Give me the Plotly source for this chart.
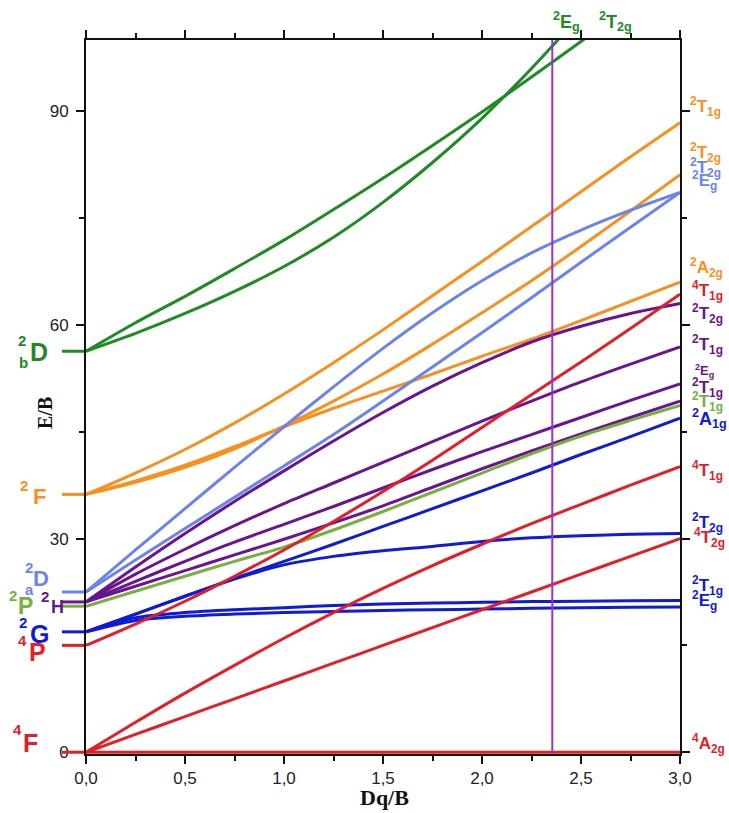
import plotly.graph_objects as go

# ---------------- data ----------------
X = [0, 0.25, 0.5, 0.75, 1.0, 1.25, 1.5, 1.75, 2.0, 2.25, 2.5, 2.75, 3.0]

red_4A2g = [0, 0, 0, 0, 0, 0, 0, 0, 0, 0, 0, 0, 0]
red_4T2g = [0, 2.5, 5.0, 7.5, 10.0, 12.5, 15.0, 17.5, 20.0, 22.5, 25.0, 27.5, 30.0]
red_4T1gF = [0, 4.2, 8.3, 12.2, 16.0, 19.6, 23.0, 26.2, 29.2, 32.1, 34.8, 37.5, 40.1]
red_4T1gP = [15.0, 18.0, 21.2, 24.7, 28.4, 32.4, 36.6, 41.0, 45.6, 50.2, 54.8, 59.5, 64.3]

blue_2Eg = [16.9, 18.5, 19.1, 19.4, 19.6, 19.75, 19.9, 20.0, 20.1, 20.2, 20.3, 20.35, 20.4]
blue_2T1g = [16.9, 18.9, 19.6, 20.0, 20.3, 20.6, 20.8, 20.95, 21.05, 21.15, 21.2, 21.25, 21.3]
blue_2T2g = [16.9, 19.4, 21.9, 24.3, 26.3, 27.5, 28.3, 28.9, 29.6, 30.1, 30.4, 30.6, 30.7]
blue_2A1g = [16.9, 19.4, 21.9, 24.4, 26.8, 29.2, 31.7, 34.2, 36.7, 39.2, 41.8, 44.3, 46.9]

lgreen_2T1g = [20.5, 22.6, 24.7, 26.8, 28.8, 31.2, 33.8, 36.5, 39.2, 41.9, 44.4, 46.6, 48.7]

purple_2T1g_a = [21.1, 23.3, 25.5, 27.7, 29.9, 32.2, 34.6, 37.2, 39.8, 42.3, 44.7, 47.0, 49.3]
purple_2Eg = [21.1, 24.0, 26.8, 29.5, 32.0, 34.5, 37.1, 39.7, 42.2, 44.6, 47.0, 49.4, 51.7]
purple_2T1g_b = [21.1, 25.0, 28.5, 31.8, 34.9, 37.8, 40.7, 43.6, 46.5, 49.3, 52.0, 54.5, 56.9]
purple_2T2g = [21.1, 26.0, 30.7, 35.2, 39.5, 43.7, 47.7, 51.4, 54.7, 57.6, 59.8, 61.6, 63.0]

lblue_2Eg = [22.5, 27.0, 31.4, 35.8, 40.2, 44.6, 49.3, 54.1, 58.9, 63.8, 68.8, 73.7, 78.6]
lblue_2T2g = [22.5, 28.4, 34.2, 40.0, 45.7, 51.3, 56.7, 61.7, 66.2, 70.1, 73.3, 76.1, 78.6]

orange_2T1g = [36.2, 39.2, 42.5, 46.2, 50.3, 54.7, 59.3, 64.1, 68.9, 73.8, 78.7, 83.6, 88.4]
orange_2T2g = [36.2, 37.9, 40.0, 42.6, 45.8, 49.3, 53.1, 57.3, 61.7, 66.2, 71.0, 76.0, 81.1]
orange_2A2g = [36.2, 38.1, 40.3, 42.9, 45.7, 48.3, 50.7, 53.1, 55.6, 58.0, 60.6, 63.3, 66.0]

green_x_T2g = [0, 0.25, 0.5, 0.75, 1.0, 1.25, 1.5, 1.75, 2.0, 2.25, 2.5, 2.75]
green_2T2g = [56.3, 60.3, 64.0, 67.9, 71.9, 76.2, 80.6, 85.2, 89.9, 94.8, 99.8, 105.0]
green_x_Eg = [0, 0.25, 0.5, 0.75, 1.0, 1.25, 1.5, 1.75, 2.0, 2.25, 2.5]
green_2Eg = [56.3, 58.8, 61.6, 64.7, 68.2, 72.3, 77.2, 82.8, 89.0, 96.0, 103.6]

# free-ion levels (E/B at Dq/B = 0)
level_names = ['4F', '4P', '2G', '2P', '2H', '2Da', '2F', '2Db']
level_values = [0, 15.0, 16.9, 20.5, 21.1, 22.5, 36.2, 56.3]

vline_x = 2.355

x_ticks = [0, 0.5, 1.0, 1.5, 2.0, 2.5, 3.0]
y_ticks = [0, 30, 60, 90]
Y_MIN, Y_MAX = -0.25, 100

# ---------------- styling ----------------
RED = '#E41E26'
GREEN = '#1E8B24'
ORANGE = '#F7901E'
LBLUE = '#6C83EE'
PURPLE = '#6A1490'
LGREEN = '#78B03C'
BLUE = '#0F1BD6'
VIOLET = '#9B30D9'

level_colors = [RED, RED, BLUE, LGREEN, PURPLE, LBLUE, ORANGE, GREEN]

SANS = 'Liberation Sans, Arial, sans-serif'
SERIF = 'Liberation Serif, Times New Roman, serif'

series = [
    (green_x_T2g, green_2T2g, GREEN),
    (green_x_Eg, green_2Eg, GREEN),
    (X, orange_2T1g, ORANGE),
    (X, orange_2T2g, ORANGE),
    (X, orange_2A2g, ORANGE),
    (X, lblue_2T2g, LBLUE),
    (X, lblue_2Eg, LBLUE),
    (X, purple_2T2g, PURPLE),
    (X, purple_2T1g_b, PURPLE),
    (X, purple_2Eg, PURPLE),
    (X, purple_2T1g_a, PURPLE),
    (X, lgreen_2T1g, LGREEN),
    (X, blue_2A1g, BLUE),
    (X, blue_2T2g, BLUE),
    (X, blue_2T1g, BLUE),
    (X, blue_2Eg, BLUE),
    (X, red_4T1gP, RED),
    (X, red_4T1gF, RED),
    (X, red_4T2g, RED),
    (X, red_4A2g, RED),
]

fig = go.Figure()
for xs, ys, col in series:
    fig.add_trace(go.Scatter(x=xs, y=ys, mode='lines',
                             line=dict(color=col, width=3, shape='spline', smoothing=0.8),
                             hoverinfo='skip', showlegend=False))

fig.add_vline(x=vline_x, line=dict(color=VIOLET, width=2))

# left level markers (outside the frame)
L, R_, T, B = 86, 49, 40, 59
W, H = 729, 813
PW, PH = W - L - R_, H - T - B
for v, c in zip(level_values, level_colors):
    yp = (v - Y_MIN) / (Y_MAX - Y_MIN)
    fig.add_shape(type='line', xref='paper', yref='paper',
                  x0=-24 / PW, x1=-2 / PW, y0=yp, y1=yp,
                  line=dict(color=c, width=3))


def ann(text, px, py, color, size, xanchor='center', family=SANS, bold=True, angle=0):
    fig.add_annotation(x=(px - L) / PW, y=(H - B - py) / PH, xref='paper', yref='paper',
                       text=('<b>%s</b>' % text) if bold else text, showarrow=False,
                       font=dict(color=color, size=size, family=family),
                       xanchor=xanchor, yanchor='middle', textangle=angle)


# right-side term labels
right_labels = [
    ('<sup>2</sup>T<sub>1g</sub>', 688, 106, ORANGE, 17),
    ('<sup>2</sup>T<sub>2g</sub>', 688, 152, ORANGE, 17),
    ('<sup>2</sup>T<sub>2g</sub>', 688, 167, LBLUE, 17),
    ('<sup>2</sup>E<sub>g</sub>', 690, 181, LBLUE, 17),
    ('<sup>2</sup>A<sub>2g</sub>', 688, 267, ORANGE, 17),
    ('<sup>4</sup>T<sub>1g</sub>', 690, 290, RED, 17),
    ('<sup>2</sup>T<sub>2g</sub>', 690, 313, PURPLE, 17),
    ('<sup>2</sup>T<sub>1g</sub>', 690, 344, PURPLE, 17),
    ('<sup>2</sup>E<sub>g</sub>', 693, 371, PURPLE, 13),
    ('<sup>2</sup>T<sub>1g</sub>', 690, 387, PURPLE, 17),
    ('<sup>2</sup>T<sub>1g</sub>', 690, 401, LGREEN, 17),
    ('<sup>2</sup>A<sub>1g</sub>', 690, 418, BLUE, 18),
    ('<sup>4</sup>T<sub>1g</sub>', 690, 470, RED, 17),
    ('<sup>2</sup>T<sub>2g</sub>', 690, 522, BLUE, 17),
    ('<sup>4</sup>T<sub>2g</sub>', 692, 537, RED, 17),
    ('<sup>2</sup>T<sub>1g</sub>', 690, 585, BLUE, 17),
    ('<sup>2</sup>E<sub>g</sub>', 690, 600, BLUE, 17),
    ('<sup>4</sup>A<sub>2g</sub>', 690, 743, RED, 17),
]
for t, px, py, c, s in right_labels:
    ann(t, px, py, c, s, xanchor='left')

# top labels
ann('<sup>2</sup>E<sub>g</sub>', 566, 21, GREEN, 18)
ann('<sup>2</sup>T<sub>2g</sub>', 615, 21, GREEN, 18)

# left free-ion labels: (superscript), (main letter, size), optional (lower index)
left_labels = [
    (GREEN, ('2', 22, 341), ('D', 39, 352, 25), ('b', 23, 363)),
    (ORANGE, ('2', 24, 485), ('F', 39, 497, 22), None),
    (LBLUE, ('2', 29, 567), ('D', 41, 578, 22), ('a', 29, 589)),
    (LGREEN, ('2', 13, 595), ('P', 25, 606, 23), None),
    (PURPLE, ('2', 45, 596), ('H', 57, 607, 18), None),
    (BLUE, ('2', 23, 622), ('G', 39, 634, 25), None),
    (RED, ('4', 22, 640), ('P', 38, 652, 25), None),
    (RED, ('4', 17, 729), ('F', 30, 743, 25), None),
]
for col, sup, main, sub in left_labels:
    ann(sup[0], sup[1], sup[2], col, 15)
    ann(main[0], main[1], main[2], col, main[3])
    if sub:
        ann(sub[0], sub[1], sub[2], col, 15)

# axis titles
ann('E/B', 45, 413, '#111', 20, family=SERIF, angle=-90)
ann('Dq/B', 384, 797, '#111', 22, family=SERIF)

axis_common = dict(showgrid=False, zeroline=False, showline=True, linecolor='#111', linewidth=2,
                   mirror='ticks', ticks='outside', ticklen=8, tickwidth=2, tickcolor='#111',
                   tickfont=dict(family=SANS, size=17, color='#222'), layer='below traces')

fig.update_layout(
    width=W, height=H, margin=dict(l=L, r=R_, t=T, b=B),
    paper_bgcolor='white', plot_bgcolor='white', separators=', ',
    xaxis=dict(range=[0, 3], tickvals=x_ticks, tickformat='.1f',
               minor=dict(ticks='outside', dtick=0.25, ticklen=5, tickwidth=1.5, tickcolor='#111'),
               **axis_common),
    yaxis=dict(range=[Y_MIN, Y_MAX], tickvals=y_ticks, ticklabelstandoff=4,
               minor=dict(ticks='outside', tickvals=[15, 45, 75], ticklen=5, tickwidth=1.5, tickcolor='#111'),
               **axis_common),
)

fig.write_html('out.html')
